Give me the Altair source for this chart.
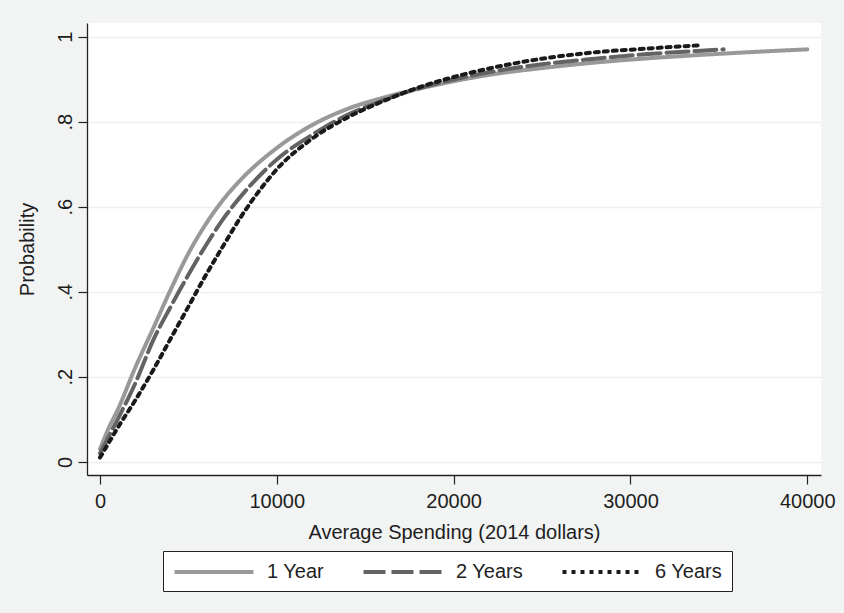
import altair as alt
import pandas as pd

series_names = ["1 Year", "2 Years", "6 Years"]

x_1yr = [0, 500, 1000, 2000, 3000, 4000, 5000, 6000, 7000, 8000, 10000, 12000, 14000,
         16000, 18000, 20000, 22000, 25000, 28000, 31000, 34000, 37000, 40000]
y_1yr = [0.03, 0.08, 0.122, 0.222, 0.313, 0.405, 0.49, 0.56, 0.618, 0.665, 0.738, 0.792, 0.830,
         0.856, 0.877, 0.895, 0.910, 0.926, 0.939, 0.949, 0.957, 0.964, 0.970]

x_2yr = [0, 500, 1000, 2000, 3000, 4000, 5000, 6000, 7000, 8000, 10000, 12000, 14000,
         16000, 18000, 20000, 22000, 25000, 28000, 31000, 34000, 35270]
y_2yr = [0.02, 0.06, 0.10, 0.185, 0.285, 0.365, 0.44, 0.51, 0.573, 0.626, 0.711, 0.769, 0.816,
         0.850, 0.878, 0.899, 0.916, 0.935, 0.948, 0.959, 0.967, 0.970]

x_6yr = [0, 500, 1000, 2000, 3000, 4000, 5000, 6000, 7000, 8000, 9000, 10000, 12000, 14000,
         16000, 18000, 20000, 22000, 25000, 28000, 31000, 34050]
y_6yr = [0.01, 0.045, 0.08, 0.145, 0.215, 0.29, 0.365, 0.44, 0.51, 0.578, 0.637, 0.688, 0.76, 0.81,
         0.848, 0.88, 0.905, 0.925, 0.948, 0.963, 0.972, 0.980]

x_ticks = [0, 10000, 20000, 30000, 40000]
y_ticks = [0, 0.2, 0.4, 0.6, 0.8, 1]

rows = []
for name, xs, ys in zip(series_names, [x_1yr, x_2yr, x_6yr], [y_1yr, y_2yr, y_6yr]):
    for i, (xv, yv) in enumerate(zip(xs, ys)):
        rows.append({"series": name, "spend": xv, "prob": yv, "idx": i})
df = pd.DataFrame(rows)

FONT = "Liberation Sans"
TXT = "#1e1e1e"

legend = alt.Legend(
    title=None,
    orient="none",
    legendX=76,
    legendY=528,
    direction="horizontal",
    symbolType="M-4,0H4",
    symbolSize=390,
    symbolOffset=30,
    symbolStrokeWidth=4,
    labelFontSize=20,
    labelFont=FONT,
    labelColor=TXT,
    labelOffset=41,
    columnPadding=30,
    padding=9,
    strokeColor="#222222",
    fillColor="white",
)

chart = alt.Chart(df).mark_line(
    strokeWidth=4, strokeCap="round", strokeJoin="round", interpolate="monotone"
).encode(
    x=alt.X("spend:Q",
            scale=alt.Scale(domain=[-734, 40775], nice=False, zero=False),
            axis=alt.Axis(values=x_ticks, format="d", title="Average Spending (2014 dollars)",
                          grid=False, tickSize=9, labelPadding=7, labelBaseline="top",
                          titleBaseline="alphabetic", titleY=63)),
    y=alt.Y("prob:Q",
            scale=alt.Scale(domain=[-0.031, 1.032], nice=False, zero=False),
            axis=alt.Axis(values=y_ticks, title="Probability", grid=True,
                          labelExpr="datum.value < 0.1 ? '0' : (datum.value > 0.9 ? '1' : '.' + format(datum.value * 10, '.0f'))",
                          labelAngle=-90, labelAlign="center", labelBaseline="alphabetic",
                          labelPadding=7, tickSize=9,
                          titleBaseline="alphabetic", titleX=-54, titleAngle=-90)),
    color=alt.Color("series:N",
                    scale=alt.Scale(domain=series_names, range=["#999999", "#636363", "#1a1a1a"]),
                    legend=legend),
    strokeDash=alt.StrokeDash("series:N",
                              scale=alt.Scale(domain=series_names, range=[[1, 0], [22, 6], [4, 5]]),
                              legend=legend),
    order="idx:Q",
).properties(
    width=734,
    height=452,
    autosize=alt.AutoSizeParams(type="none"),
    padding={"left": 87, "top": 23, "right": 23, "bottom": 138},
    background="#f2f4f4",
).configure_view(
    fill="white", stroke=None
).configure_axis(
    labelFont=FONT, titleFont=FONT, labelFontSize=20, titleFontSize=20,
    labelColor=TXT, titleColor=TXT, titleFontWeight="normal",
    domainColor="#222222", domainWidth=1.3, tickColor="#222222", tickWidth=1.2,
    gridColor="#edf0f0", gridWidth=1.5,
)

chart.save("out.html", embed_options={"renderer": "svg", "actions": False})
